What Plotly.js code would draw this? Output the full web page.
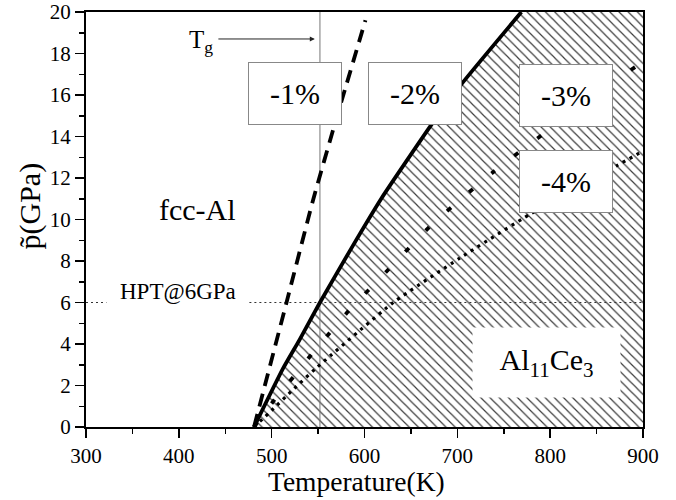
<!DOCTYPE html>
<html>
<head>
<meta charset="utf-8">
<script src="https://cdn.plot.ly/plotly-3.0.1.min.js"></script>
<style>html,body{margin:0;padding:0;background:#fff;}#chart{width:676px;height:500px;}</style>
</head>
<body>
<div id="chart"></div>
<script>
// ---- data ----
const xTickVals = [300, 400, 500, 600, 700, 800, 900];
const yTickVals = [0, 2, 4, 6, 8, 10, 12, 14, 16, 18, 20];

// solid phase boundary (fcc-Al / Al11Ce3)
const solidT = [481, 512, 530, 552, 585, 618, 671, 704, 769];
const solidP = [0, 2.8, 4.2, 6.0, 8.55, 11.0, 14.5, 16.5, 20];
// -1% dashed line
const dashT = [481, 516, 545, 568, 601];
const dashP = [0, 6.0, 11.0, 14.6, 19.6];
// -3% dash-dot line
const dashdotT = [481, 507, 525, 543, 583, 626, 670, 694, 739, 786, 877, 900];
const dashdotP = [0, 1.55, 2.5, 3.5, 5.6, 7.6, 9.65, 10.6, 12.3, 13.9, 16.9, 17.6];
// -4% dotted line
const dotT = [481, 500, 523, 547, 631, 703, 780, 872, 900];
const dotP = [0, 0.8, 1.8, 2.8, 6.0, 8.15, 10.3, 12.6, 13.3];

// reference markers
const tgT = 552;            // glass transition temperature
const hptP = 6;             // HPT pressure
const hptGapT = [322, 476]; // gap in dotted line around label

// labels
const boxLabels = ['-1%', '-2%', '-3%', '-4%'];
const boxT = [525, 654, 817.5, 817.5];
const boxP = [16.05, 16.05, 16.0, 11.85];

const FONT = 'Liberation Serif';

const hatchX = solidT.concat([900, 900]);
const hatchY = solidP.concat([20, 0]);

const traces = [
  {x: hatchX, y: hatchY, mode: 'lines', fill: 'toself', line: {width: 0, color: 'rgba(0,0,0,0)'},
   fillcolor: 'white',
   fillpattern: {shape: '\\', fgcolor: '#3a3a3a', bgcolor: 'white', size: 6.5, solidity: 0.18},
   hoverinfo: 'skip', showlegend: false},
  {x: [tgT, tgT], y: [0, 20], mode: 'lines', line: {color: '#777', width: 1}, showlegend: false},
  {x: [300, hptGapT[0], null, hptGapT[1], 900], y: [hptP, hptP, null, hptP, hptP], mode: 'lines',
   line: {color: '#333', width: 1, dash: '2px,3px'}, showlegend: false},
  {x: dotT, y: dotP, mode: 'lines', line: {color: 'black', width: 3.2, dash: '3px,5px', shape: 'spline', smoothing: 0.5}, showlegend: false},
  {x: dashdotT, y: dashdotP, mode: 'lines', line: {color: 'black', width: 3.8, dash: '5px,24px', shape: 'spline', smoothing: 0.5}, showlegend: false},
  {x: dashT, y: dashP, mode: 'lines', line: {color: 'black', width: 3.8, dash: '13px,8px', shape: 'spline', smoothing: 0.5}, showlegend: false},
  {x: solidT, y: solidP, mode: 'lines', line: {color: 'black', width: 3.8, shape: 'spline', smoothing: 0.5}, showlegend: false}
];

const annotations = boxLabels.map((t, i) => ({
  x: boxT[i], y: boxP[i], xref: 'x', yref: 'y', text: t, showarrow: false,
  font: {family: FONT, size: 30, color: 'black'},
  bgcolor: 'white', bordercolor: '#888', borderwidth: 1, borderpad: 0,
  width: 92, height: 61, xanchor: 'center', yanchor: 'middle'
}));
annotations.push(
  {x: 546.5, y: 18.7, ax: 441, ay: 18.7, xref: 'x', yref: 'y', axref: 'x', ayref: 'y', text: '',
   showarrow: true, arrowhead: 2, arrowsize: 1, arrowwidth: 1, arrowcolor: '#222'},
  {x: 439, y: 18.6, xref: 'x', yref: 'y', text: 'T<sub>g</sub>', showarrow: false, xanchor: 'right',
   font: {family: FONT, size: 25, color: 'black'}},
  {x: 420.5, y: 10.5, xref: 'x', yref: 'y', text: 'fcc-Al', showarrow: false,
   font: {family: FONT, size: 30, color: 'black'}},
  {x: 399.5, y: 6.55, xref: 'x', yref: 'y', text: 'HPT@6GPa', showarrow: false,
   font: {family: FONT, size: 23, color: 'black'}},
  {x: 796, y: 3.12, xref: 'x', yref: 'y', text: 'Al<sub>11</sub>Ce<sub>3</sub>', showarrow: false,
   font: {family: FONT, size: 30, color: 'black'}, bgcolor: 'white', borderpad: 0,
   width: 147, height: 69},
  // axis titles placed as annotations to match the reference placement
  {x: 0.485, y: -0.131, xref: 'paper', yref: 'paper', text: 'Temperature(K)', showarrow: false,
   xanchor: 'center', yanchor: 'middle', font: {family: FONT, size: 27.5, color: 'black'}},
  {x: -0.1, y: 0.532, xref: 'paper', yref: 'paper', text: 'p\u0303(GPa)', showarrow: false, textangle: -90,
   xanchor: 'center', yanchor: 'middle', font: {family: FONT, size: 30, color: 'black'}}
);

const axisCommon = {
  showgrid: false, zeroline: false, showline: true, linecolor: 'black', linewidth: 2,
  mirror: true, ticks: 'outside', ticklen: 9, tickwidth: 1.5, tickcolor: 'black',
  tickfont: {family: FONT, size: 21, color: 'black'}
};

const layout = {
  width: 676, height: 500,
  margin: {l: 86, r: 33, t: 12, b: 73},
  paper_bgcolor: 'white', plot_bgcolor: 'white',
  showlegend: false,
  font: {family: FONT, color: 'black'},
  xaxis: Object.assign({}, axisCommon, {
    range: [300, 900], tickvals: xTickVals, ticktext: xTickVals.map(String),
    minor: {dtick: 50, tick0: 300, ticks: 'outside', ticklen: 5, tickwidth: 1.5, tickcolor: 'black'}
  }),
  yaxis: Object.assign({}, axisCommon, {
    range: [0, 20], tickvals: yTickVals, ticktext: yTickVals.map(String),
    minor: {dtick: 1, tick0: 0, ticks: 'outside', ticklen: 5, tickwidth: 1.5, tickcolor: 'black'}
  }),
  annotations: annotations
};

Plotly.newPlot('chart', traces, layout, {staticPlot: true, displayModeBar: false});
</script>
</body>
</html>
